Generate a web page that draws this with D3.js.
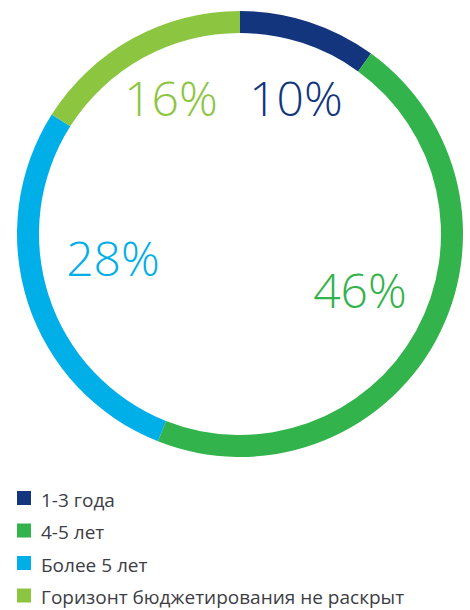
<!DOCTYPE html>
<html>
<head>
<meta charset="utf-8">
<script src="https://cdn.jsdelivr.net/npm/d3@7"></script>
<style>
  html, body { margin: 0; padding: 0; background: #ffffff; }
  svg { display: block; }
</style>
</head>
<body>
<svg id="chart" width="470" height="610"></svg>
<script>
// Budgeting horizon shares
const categories = ["1-3 года", "4-5 лет", "Более 5 лет", "Горизонт бюджетирования не раскрыт"];
const shares = [10, 46, 28, 16];
const colors = ["#12357d", "#32b34b", "#00aee8", "#8cc540"];

const svg = d3.select("#chart");
const cx = 240, cy = 234;
const outerR = 223, innerR = 201;

const pie = d3.pie().sort(null).value(d => d)(shares);
const arc = d3.arc().innerRadius(innerR).outerRadius(outerR);

const g = svg.append("g").attr("transform", `translate(${cx},${cy})`);
g.selectAll("path.slice")
  .data(pie)
  .join("path")
  .attr("class", "slice")
  .attr("d", arc)
  .attr("fill", (d, i) => colors[i]);

// Percent labels placed inside the ring
const labelPos = [
  { x: 296, y: 116 },
  { x: 360, y: 308 },
  { x: 113, y: 276 },
  { x: 171, y: 116 }
];
svg.selectAll("text.pct")
  .data(shares)
  .join("text")
  .attr("class", "pct")
  .attr("x", (d, i) => labelPos[i].x)
  .attr("y", (d, i) => labelPos[i].y)
  .attr("text-anchor", "middle")
  .attr("font-family", "'Open Sans', sans-serif")
  .attr("font-weight", 300)
  .attr("font-size", 48)
  .attr("fill", (d, i) => colors[i])
  .text(d => d + "%");

// Legend
const legend = svg.append("g").attr("transform", "translate(17,491)");
const rows = legend.selectAll("g.row")
  .data(categories)
  .join("g")
  .attr("class", "row")
  .attr("transform", (d, i) => `translate(0,${i * 32.5})`);
rows.append("rect")
  .attr("width", 14).attr("height", 14)
  .attr("fill", (d, i) => colors[i]);
rows.append("text")
  .attr("x", 24).attr("y", 15.5)
  .attr("font-family", "'Open Sans', sans-serif")
  .attr("font-size", 19)
  .attr("fill", "#3d3d45")
  .text(d => d);
</script>
</body>
</html>
